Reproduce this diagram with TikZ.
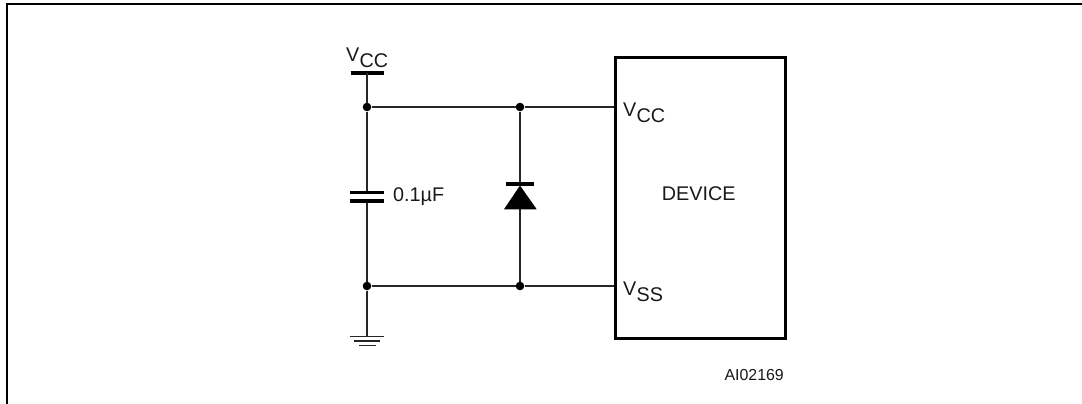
\documentclass[tikz,border=0pt]{standalone}
\usepackage{fontspec}
\setmainfont{Liberation Sans}
\newcommand{\sz}{\fontsize{19.8pt}{22pt}\selectfont}
\newcommand{\pinlabel}[2]{\raisebox{6pt}{#1}\kern0.2pt#2}
\tikzset{x=1pt,y=-1pt,
 wire/.style={line width=1.4pt,draw=black!85},
 thick bar/.style={line width=3.2pt,draw=black},
 dotnode/.style={circle,fill=black,inner sep=0pt,minimum size=8.6pt},
 lab/.style={inner sep=0pt,text=black!90,font=\sz},
 frameline/.style={line width=2.3pt,draw=black}}
\begin{document}
\begin{tikzpicture}
\useasboundingbox (0,0) rectangle (1082,404);
\draw[frameline] (7,404) -- (7,4.3) -- (1082,4.3);
% device
\node[draw=black,line width=3.3pt,minimum width=170pt,minimum height=281pt,inner sep=0pt,anchor=north west] (dev) at (614,56) {};
\node[lab,anchor=center] (devtxt) at (698.7,194) {DEVICE};
\coordinate (pcc) at (dev.west |- 0,107);
\coordinate (pss) at (dev.west |- 0,286);
\node[lab,anchor=base west] (lcc) at (623,122.3) {\pinlabel{V}{CC}};
\node[lab,anchor=base west] (lss) at (623,301.3) {\pinlabel{V}{SS}};
\node[lab,anchor=base east,font=\fontsize{15.9pt}{18pt}\selectfont] (ai) at (784,380) {AI02169};
% junctions
\node[dotnode] (j1) at (367,107) {};
\node[dotnode] (j2) at (520,107) {};
\node[dotnode] (j3) at (367,286) {};
\node[dotnode] (j4) at (520,286) {};
% supply
\coordinate (vbar) at (367,73);
\draw[thick bar] (350.5,73) -- (383.5,73);
\node[lab,anchor=base west] (lvcc) at (346,67.3) {\pinlabel{V}{CC}};
\draw[wire] (vbar) -- (j1);
\draw[wire] (j1) -- (j2);
\draw[wire] (j2) -- (pcc);
\draw[wire] (j3) -- (j4);
\draw[wire] (j4) -- (pss);
% capacitor
\coordinate (capa) at (367,192.3);
\coordinate (capb) at (367,201);
\draw[wire] (j1) -- (capa);
\draw[wire] (capb) -- (j3);
\draw[thick bar] (350,192.3) -- (384.3,192.3);
\draw[thick bar] (350,201) -- (384.3,201);
\node[lab,anchor=base west] (capl) at (393,201.7) {0.1µF};
% diode
\coordinate (dk) at (520,184);
\coordinate (da) at (520,209);
\draw[wire] (j2) -- (dk);
\draw[wire] (da) -- (j4);
\draw[thick bar] (506,184) -- (534.3,184);
\fill[black] (520,185.5) -- (536.7,209.3) -- (504,209.3) -- cycle;
% ground
\coordinate (g) at (367,336.7);
\draw[wire] (j3) -- (g);
\draw[wire] (350,336.7) -- (384.3,336.7);
\draw[wire] (354.3,341) -- (380,341);
\draw[wire] (359,345.3) -- (375.7,345.3);
\end{tikzpicture}
\end{document}
